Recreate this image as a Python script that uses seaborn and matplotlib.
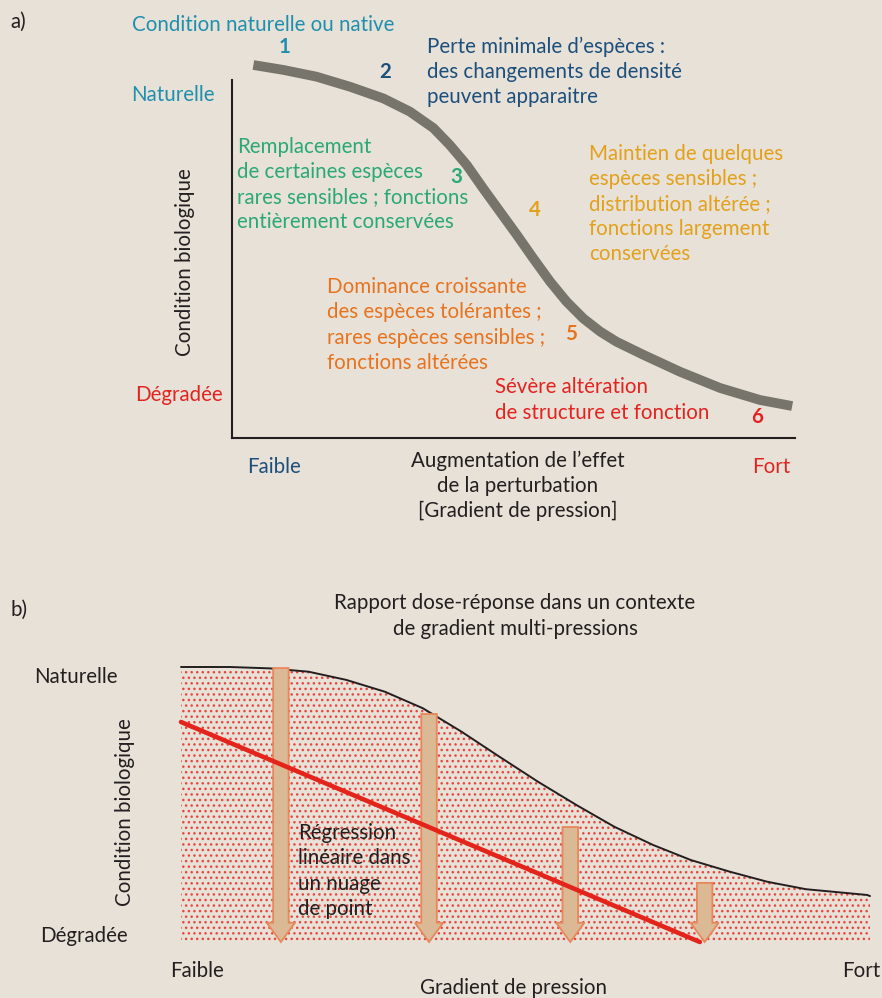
import numpy as np
import pandas as pd
import matplotlib
matplotlib.use("Agg")
import matplotlib.pyplot as plt
import seaborn as sns
from matplotlib.patches import FancyArrow

# ---------------- data ----------------
# Panel a: response curve (pressure 0..1, biological condition 0..1)
curve_a_x = [0.038, 0.091, 0.150, 0.210, 0.269, 0.316, 0.358, 0.387, 0.417, 0.446,
             0.476, 0.506, 0.535, 0.565, 0.594, 0.624, 0.654, 0.683, 0.731, 0.796,
             0.867, 0.938, 0.995]
curve_a_y = [0.992, 0.979, 0.961, 0.934, 0.903, 0.868, 0.824, 0.779, 0.726, 0.664,
             0.602, 0.540, 0.478, 0.416, 0.363, 0.318, 0.283, 0.256, 0.221, 0.176,
             0.133, 0.101, 0.085]

# Panel b: envelope curve
curve_b_x = [0.0, 0.071, 0.129, 0.185, 0.240, 0.296, 0.351, 0.407, 0.462, 0.518,
             0.574, 0.629, 0.685, 0.740, 0.796, 0.851, 0.907, 0.996, 1.0]
curve_b_y = [1.0, 1.0, 0.995, 0.983, 0.953, 0.910, 0.850, 0.765, 0.674, 0.583,
             0.498, 0.419, 0.353, 0.298, 0.256, 0.219, 0.192, 0.171, 0.167]

# Panel b: downward arrows (x position, starting condition)
arrow_x = [0.145, 0.360, 0.565, 0.760]
arrow_top = [0.996, 0.829, 0.418, 0.215]

# Panel b: linear regression line
reg_x = [0.0, 0.753]
reg_y = [0.80, 0.0]

# Panel a: zone-3 description, one entry per line
zone3_lines = ["Remplacement", "de certaines espèces",
               "rares sensibles ; fonctions", "entièrement conservées"]

# ---------------- styling ----------------
BG = "#e7e1d7"
INK = "#231f20"
TEAL = "#1f8fae"
DBLUE = "#1d4f7c"
GREEN = "#2aa876"
YELLOW = "#e3a11b"
ORANGE = "#e8731e"
RED = "#e3231f"
GREY = "#77756b"

sns.set_theme(style="white")
plt.rcParams["font.family"] = ["Lato", "DejaVu Sans"]
plt.rcParams["hatch.color"] = "#e8453e"
plt.rcParams["hatch.linewidth"] = 1.0

W, H = 882, 998
fig = plt.figure(figsize=(W / 100, H / 100), dpi=100, facecolor=BG)

FS = 14.8
LS = 1.32


def P(x, y):
    return x / W, 1 - y / H


def T(x, y, s, color=INK, ha="left", va="center", bold=False, rot=0, ls=LS, fs=FS):
    fig.text(*P(x, y), s, color=color, ha=ha, va=va, fontsize=fs,
             fontweight="bold" if bold else "normal", rotation=rot,
             linespacing=ls, zorder=10)


# ---------------- panel a ----------------
axa = fig.add_axes([232 / W, 1 - 438 / H, 563 / W, 376 / H])
axa.set_facecolor("none")
dfa = pd.DataFrame({"x": curve_a_x, "y": curve_a_y})
sns.lineplot(data=dfa, x="x", y="y", ax=axa, color=GREY, linewidth=7.0,
             sort=False, estimator=None, clip_on=False)
axa.lines[0].set_solid_capstyle("butt")
axa.lines[0].set_solid_joinstyle("round")
axa.set_xlim(0, 1)
axa.set_ylim(0, 1)
axa.set_xticks([])
axa.set_yticks([])
axa.set_xlabel("")
axa.set_ylabel("")
for s in ["top", "right"]:
    axa.spines[s].set_visible(False)
for s in ["left", "bottom"]:
    axa.spines[s].set_color(INK)
    axa.spines[s].set_linewidth(1.5)
axa.spines["left"].set_bounds(0, 0.952)

T(10, 22, "a)")
T(263, 25, "Condition naturelle ou native", TEAL, ha="center")
T(285, 47, "1", TEAL, ha="center", bold=True)
T(385, 72, "2", DBLUE, ha="center", bold=True)
T(427, 72, "Perte minimale d\u2019espèces :\ndes changements de densité\npeuvent apparaitre", DBLUE)
T(131, 95, "Naturelle", TEAL)
T(185, 262, "Condition biologique", INK, ha="center", rot=90)
for line, yy in zip(zone3_lines, [147, 172, 197, 222]):
    T(237, yy, line, GREEN)
T(456, 177, "3", GREEN, ha="center", bold=True)
T(535, 210, "4", YELLOW, ha="center", bold=True)
T(589, 204, "Maintien de quelques\nespèces sensibles ;\ndistribution altérée ;\nfonctions largement\nconservées", YELLOW)
T(327, 325, "Dominance croissante\ndes espèces tolérantes ;\nrares espèces sensibles ;\nfonctions altérées", ORANGE)
T(571, 334, "5", ORANGE, ha="center", bold=True)
T(135, 395, "Dégradée", RED)
T(495, 400, "Sévère altération\nde structure et fonction", RED)
T(757, 417, "6", RED, ha="center", bold=True)
T(247, 467, "Faible", DBLUE)
T(518, 486, "Augmentation de l\u2019effet\nde la perturbation\n[Gradient de pression]", INK, ha="center")
T(752, 467, "Fort", RED)

# ---------------- panel b ----------------
axb = fig.add_axes([181 / W, 1 - 942 / H, 689 / W, 275 / H])
axb.set_facecolor("none")
axb.fill_between(curve_b_x, 0, curve_b_y, facecolor="none", edgecolor="#e8453e",
                 hatch="...", linewidth=0)
dfb = pd.DataFrame({"x": curve_b_x, "y": curve_b_y})
sns.lineplot(data=dfb, x="x", y="y", ax=axb, color=INK, linewidth=1.4,
             sort=False, estimator=None, clip_on=False)

# arrows: widths in axis units (x for shaft/head width, y for head length)
for ax_, top in zip(arrow_x, arrow_top):
    arr = FancyArrow(ax_, top, 0, -top, width=0.0225, head_width=0.041,
                     head_length=0.07, length_includes_head=True,
                     facecolor="#dcb995", edgecolor="#e8875a", linewidth=1.3,
                     zorder=3, clip_on=False)
    axb.add_patch(arr)

dfr = pd.DataFrame({"x": reg_x, "y": reg_y})
sns.lineplot(data=dfr, x="x", y="y", ax=axb, color="#e3241b", linewidth=3.3,
             sort=False, estimator=None, clip_on=False, zorder=4)

axb.set_xlim(0, 1)
axb.set_ylim(0, 1)
axb.set_xticks([])
axb.set_yticks([])
axb.set_xlabel("")
axb.set_ylabel("")
for s in axb.spines.values():
    s.set_visible(False)

T(10, 610, "b)")
T(515, 616, "Rapport dose-réponse dans un contexte\nde gradient multi-pressions", INK, ha="center")
T(34, 677, "Naturelle")
T(40, 936, "Dégradée")
T(125, 812, "Condition biologique", INK, ha="center", rot=90)
T(298, 871, "Régression\nlinéaire dans\nun nuage\nde point", INK)
T(170, 971, "Faible")
T(513, 988, "Gradient de pression", INK, ha="center")
T(880, 971, "Fort", INK, ha="right")

fig.savefig("out.png", dpi=100, facecolor=BG)
